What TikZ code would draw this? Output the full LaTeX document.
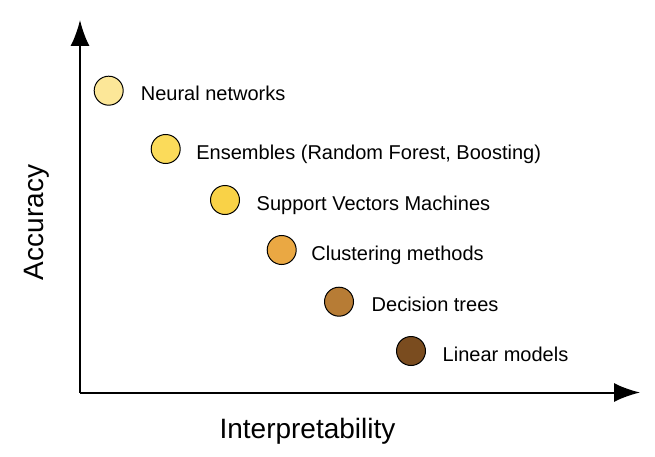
\documentclass[tikz,border=0pt]{standalone}
\usepackage{fontspec}
\setmainfont{Liberation Sans}
\usepackage{xcolor}
\usepackage{tikz}
\usetikzlibrary{arrows.meta,positioning}

\definecolor{nncol}{HTML}{FCE798}
\definecolor{enscol}{HTML}{FBDB5A}
\definecolor{svmcol}{HTML}{F9D247}
\definecolor{clucol}{HTML}{EAA843}
\definecolor{dtcol}{HTML}{B77C35}
\definecolor{lincol}{HTML}{7A4C1F}

\begin{document}
\begin{tikzpicture}[x=1pt,y=1pt,
	dot/.style={circle, draw, line width=1pt, minimum size=29pt, inner sep=0pt},
	lbl/.style={inner sep=0pt, text height=14.3pt, text depth=0pt, yshift=-3pt, font=\fontsize{20}{24}\selectfont},
	axlbl/.style={inner sep=0pt, font=\fontsize{28}{32}\selectfont},
	axis/.style={line width=2pt, -{Latex[length=26pt,width=19pt]}}]
			\useasboundingbox (0,0) rectangle (655,456);
			\coordinate (o) at (80,63.5);
			\coordinate (ytip) at (80,436);
			\coordinate (xtip) at (640,63.5);
			\draw[axis] (o) -- (ytip);
			\draw[axis] (o) -- (xtip);
			\node[axlbl, anchor=base, rotate=90] (acc) at (43,233.5) {Accuracy};
			\node[axlbl, anchor=base] (interp) at (307.5,18) {Interpretability};
			\node[dot, fill=nncol] (nn) at (108.7,365.3) {};
			\node[dot, fill=enscol] (ens) at (165.7,307) {};
			\node[dot, fill=svmcol] (svm) at (225,256) {};
			\node[dot, fill=clucol] (clu) at (281.7,206) {};
			\node[dot, fill=dtcol] (dt) at (339,154.3) {};
			\node[dot, fill=lincol] (lin) at (411,105) {};
			\node[lbl, right=17pt of nn] (nntxt) {Neural networks};
			\node[lbl, right=15.5pt of ens] (enstxt) {Ensembles (Random Forest, Boosting)};
			\node[lbl, right=16.5pt of svm] (svmtxt) {Support Vectors Machines};
			\node[lbl, right=14.5pt of clu] (clutxt) {Clustering methods};
			\node[lbl, right=17.5pt of dt] (dttxt) {Decision trees};
			\node[lbl, right=16.5pt of lin] (lintxt) {Linear models};
		\end{tikzpicture}
\end{document}
